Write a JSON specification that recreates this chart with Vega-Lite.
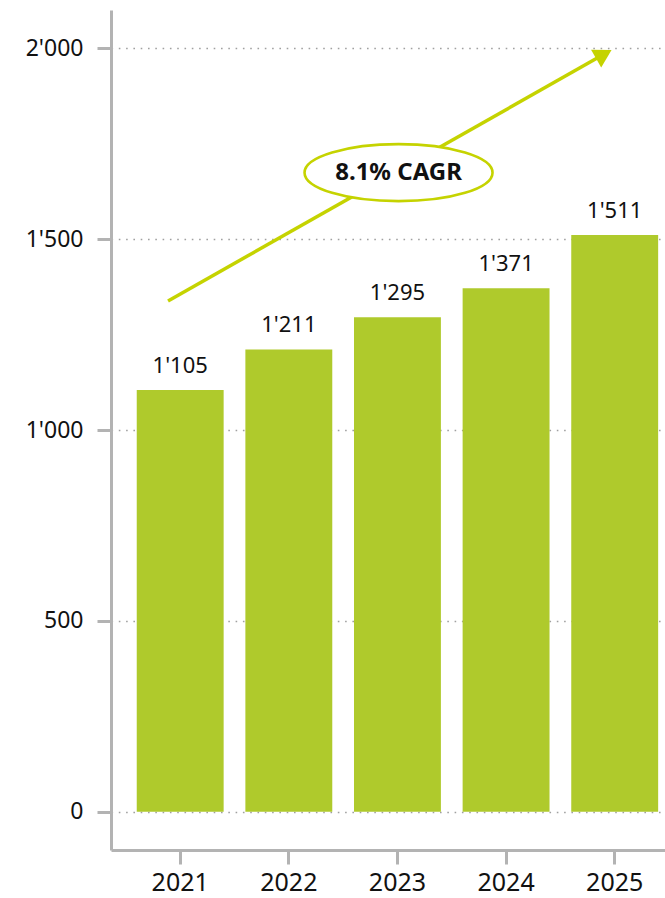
{
  "$schema": "https://vega.github.io/schema/vega-lite/v6.json",
  "width": 554,
  "height": 840,
  "autosize": {"type": "none"},
  "padding": {"left": 111, "top": 10, "right": 0, "bottom": 48},
  "config": {
    "locale": {"number": {"decimal": ".", "thousands": "'", "grouping": [3], "currency": ["", ""]}},
    "view": {"stroke": null},
    "font": "Noto Sans",
    "axis": {
      "labelFont": "Noto Sans",
      "labelFontSize": 23,
      "labelColor": "#111111",
      "domainColor": "#b3b3b3",
      "domainWidth": 3,
      "tickColor": "#b3b3b3",
      "tickWidth": 3,
      "tickSize": 14,
      "title": null
    }
  },
  "datasets": {
    "bars": [
      {"year": "2021", "value": 1105},
      {"year": "2022", "value": 1211},
      {"year": "2023", "value": 1295},
      {"year": "2024", "value": 1371},
      {"year": "2025", "value": 1511}
    ],
    "arrow": [
      {"x": 2020.888, "y": 1338, "x2": 2024.9, "y2": 1984}
    ],
    "ellipse": [
      {"x": 2023.01, "y": 1674, "label": "8.1% CAGR"}
    ]
  },
  "resolve": {"scale": {"x": "independent"}, "axis": {"x": "independent"}},
  "layer": [
    {
      "data": {"name": "bars"},
      "encoding": {
        "x": {
          "field": "year",
          "type": "ordinal",
          "scale": {"paddingInner": 0.2, "paddingOuter": 0.15, "align": 0.79},
          "axis": {"labelAngle": 0, "labelPadding": 6, "labelFontSize": 25, "grid": false}
        },
        "y": {
          "field": "value",
          "type": "quantitative",
          "scale": {"domain": [-100, 2100], "nice": false, "zero": false},
          "axis": {
            "values": [0, 500, 1000, 1500, 2000],
            "format": ",d",
            "labelPadding": 14,
            "grid": true,
            "gridColor": "#a0a0a0",
            "gridWidth": 1.6,
            "gridDash": [1.6, 5.7]
          }
        }
      },
      "layer": [
        {"mark": {"type": "bar", "color": "#afca2c"}, "encoding": {"y2": {"datum": 0}}},
        {
          "mark": {"type": "text", "dy": -17, "baseline": "alphabetic", "fontSize": 22, "color": "#111111", "font": "Noto Sans"},
          "encoding": {"text": {"field": "value", "type": "quantitative", "format": ",d"}}
        }
      ]
    },
    {
      "layer": [
        {
          "data": {"name": "arrow"},
          "mark": {"type": "rule", "color": "#c5d300", "strokeWidth": 3.5},
          "encoding": {
            "x": {"field": "x", "type": "quantitative", "scale": {"domain": [2020.363, 2025.463], "nice": false, "zero": false}, "axis": null},
            "y": {"field": "y", "type": "quantitative"},
            "x2": {"field": "x2"},
            "y2": {"field": "y2"}
          }
        },
        {
          "data": {"name": "arrow"},
          "mark": {"type": "point", "shape": "triangle-right", "filled": true, "color": "#c5d300", "opacity": 1, "size": 420, "angle": 330.4},
          "encoding": {
            "x": {"field": "x2", "type": "quantitative", "scale": {"domain": [2020.363, 2025.463], "nice": false, "zero": false}, "axis": null},
            "y": {"field": "y2", "type": "quantitative"}
          }
        },
        {
          "data": {"name": "ellipse"},
          "mark": {"type": "point", "shape": "M-1,0A1,0.303,0,1,1,1,0A1,0.303,0,1,1,-1,0Z", "filled": false, "fill": "white", "fillOpacity": 1, "stroke": "#c5d300", "strokeWidth": 2.6, "opacity": 1, "size": 35344},
          "encoding": {
            "x": {"field": "x", "type": "quantitative", "scale": {"domain": [2020.363, 2025.463], "nice": false, "zero": false}, "axis": null},
            "y": {"field": "y", "type": "quantitative"}
          }
        },
        {
          "data": {"name": "ellipse"},
          "mark": {"type": "text", "fontSize": 24, "fontWeight": "bold", "color": "#111111", "font": "Noto Sans", "baseline": "middle", "align": "center"},
          "encoding": {
            "x": {"field": "x", "type": "quantitative", "scale": {"domain": [2020.363, 2025.463], "nice": false, "zero": false}, "axis": null},
            "y": {"field": "y", "type": "quantitative"},
            "text": {"field": "label"}
          }
        }
      ]
    }
  ]
}
